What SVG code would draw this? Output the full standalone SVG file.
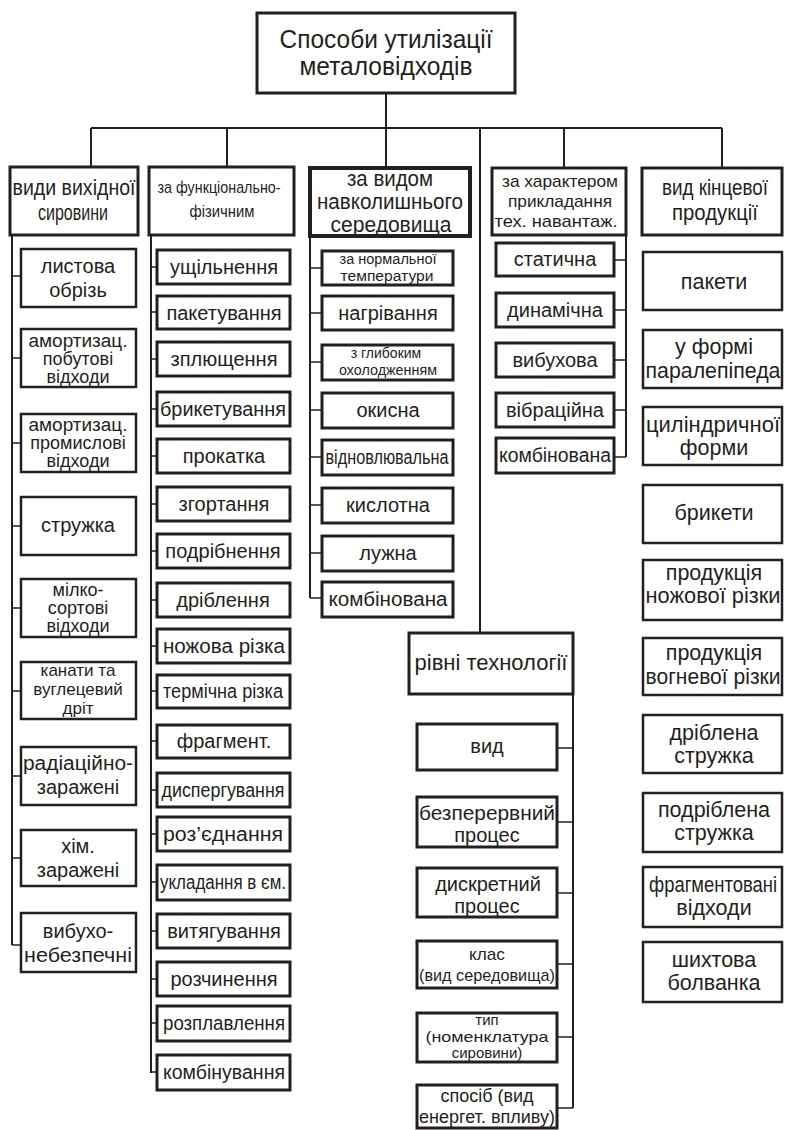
<svg xmlns="http://www.w3.org/2000/svg" width="787" height="1130" viewBox="0 0 787 1130">
<style>
.b{fill:#fff;stroke:#231f20;stroke-width:3}
.b2{fill:#fff;stroke:#231f20;stroke-width:2.5}
.b4{fill:#fff;stroke:#231f20;stroke-width:4}
.l{stroke:#231f20;stroke-width:2;fill:none}
.k{stroke:#231f20;stroke-width:1.6;fill:none}
text{font-family:"Liberation Sans",Arial,sans-serif;fill:#231f20;text-anchor:middle;font-size:20px}
.s14{font-size:14px}.s15{font-size:15px}.s17{font-size:17px}.s18{font-size:18px}.s19{font-size:19px}.s21{font-size:21.5px}.s22{font-size:22px}.s26{font-size:25px}
</style>
<rect width="787" height="1130" fill="#fff"/>
<g id="connectors">
<path class="l" d="M386 93V167M91 128H722M91 128V167M227 128V167M564 128V168M722 128V168M480 128V633"/>
<path class="l" d="M12 235V945M151 235V1073M310 236V598M626 235V457M573 694V1108"/>
<path class="k" d="M12 276H21M12 358H21M12 443H21M12 526H21M12 608H21M12 691H21M12 776H21M12 858H21M12 945H21"/>
<path class="k" d="M151 267H157M151 312H157M151 359H157M151 409H157M151 456H157M151 504H157M151 551H157M151 600H157M151 646H157M151 691H157M151 741H157M151 790H157M151 834H157M151 882H157M151 931H157M151 979H157M151 1023H157M151 1072H157"/>
<path class="k" d="M310 268H322M310 313H322M310 362H322M310 410H322M310 457H322M310 505H322M310 553H322M310 598H322"/>
<path class="k" d="M614 260H626M614 310H626M614 360H626M614 410H626M614 457H626"/>
<path class="k" d="M557 748H573M557 822H573M557 893H573M557 964H573M557 1037H573M557 1108H573"/>
</g>
<g id="root"><rect class="b" x="257" y="13" width="258" height="80"/><text class="s26" x="386" y="48" textLength="213" lengthAdjust="spacingAndGlyphs">Способи утилізації</text><text class="s26" x="386" y="75" textLength="173" lengthAdjust="spacingAndGlyphs">металовідходів</text></g>
<g id="h1"><rect class="b" x="10" y="167" width="128" height="68"/><text class="s21" x="74" y="195" textLength="123" lengthAdjust="spacingAndGlyphs">види вихідної</text><text class="s21" x="73" y="220" textLength="70" lengthAdjust="spacingAndGlyphs">сировини</text></g>
<g id="h2"><rect class="b" x="149" y="167" width="145" height="68"/><text class="s17" x="219" y="193" textLength="123" lengthAdjust="spacingAndGlyphs">за функціонально-</text><text class="s17" x="222" y="217" textLength="65" lengthAdjust="spacingAndGlyphs">фізичним</text></g>
<g id="h3"><rect class="b4" x="310" y="168" width="160" height="68"/><text class="s22" x="390" y="186" textLength="86" lengthAdjust="spacingAndGlyphs">за видом</text><text class="s22" x="390" y="209" textLength="146" lengthAdjust="spacingAndGlyphs">навколишнього</text><text class="s22" x="391" y="232" textLength="121" lengthAdjust="spacingAndGlyphs">середовища</text></g>
<g id="h4"><rect class="b" x="492" y="168" width="134" height="67"/><text class="s17" x="560" y="187" textLength="116" lengthAdjust="spacingAndGlyphs">за характером</text><text class="s17" x="560" y="207" textLength="104" lengthAdjust="spacingAndGlyphs">прикладання</text><text class="s17" x="556" y="227" textLength="123" lengthAdjust="spacingAndGlyphs">тех. навантаж.</text></g>
<g id="h5"><rect class="b" x="642" y="168" width="140" height="67"/><text class="s21" x="715" y="195" textLength="106" lengthAdjust="spacingAndGlyphs">вид кінцевої</text><text class="s21" x="715" y="220" textLength="86" lengthAdjust="spacingAndGlyphs">продукції</text></g>
<g id="c1-1"><rect class="b2" x="21" y="249" width="115" height="58"/><text x="78" y="273">листова</text><text x="78" y="297">обрізь</text></g>
<g id="c1-2"><rect class="b2" x="21" y="329" width="115" height="58"/><text class="s18" x="78" y="347" textLength="99" lengthAdjust="spacingAndGlyphs">амортизац.</text><text class="s18" x="78" y="365">побутові</text><text class="s18" x="78" y="383">відходи</text></g>
<g id="c1-3"><rect class="b2" x="21" y="414" width="115" height="58"/><text class="s18" x="78" y="431" textLength="99" lengthAdjust="spacingAndGlyphs">амортизац.</text><text class="s18" x="78" y="449">промислові</text><text class="s18" x="78" y="467">відходи</text></g>
<g id="c1-4"><rect class="b2" x="21" y="497" width="115" height="58"/><text x="78" y="532">стружка</text></g>
<g id="c1-5"><rect class="b2" x="21" y="579" width="115" height="58"/><text class="s18" x="78" y="596">мілко-</text><text class="s18" x="78" y="614">сортові</text><text class="s18" x="78" y="632">відходи</text></g>
<g id="c1-6"><rect class="b2" x="21" y="662" width="115" height="57"/><text class="s17" x="78" y="676">канати та</text><text class="s17" x="78" y="695">вуглецевий</text><text class="s17" x="78" y="714">дріт</text></g>
<g id="c1-7"><rect class="b2" x="21" y="747" width="115" height="58"/><text x="78" y="770" textLength="110" lengthAdjust="spacingAndGlyphs">радіаційно-</text><text x="78" y="794">заражені</text></g>
<g id="c1-8"><rect class="b2" x="21" y="830" width="115" height="56"/><text x="78" y="853">хім.</text><text x="78" y="877">заражені</text></g>
<g id="c1-9"><rect class="b2" x="21" y="913" width="115" height="59"/><text x="78" y="938">вибухо-</text><text x="78" y="962" textLength="108" lengthAdjust="spacingAndGlyphs">небезпечні</text></g>
<g id="c2-1"><rect class="b" x="157" y="250" width="133" height="34"/><text x="224" y="274">ущільнення</text></g>
<g id="c2-2"><rect class="b" x="157" y="296" width="133" height="33"/><text x="224" y="320">пакетування</text></g>
<g id="c2-3"><rect class="b" x="157" y="342" width="133" height="34"/><text x="224" y="366">зплющення</text></g>
<g id="c2-4"><rect class="b" x="157" y="392" width="133" height="34"/><text x="223" y="416" textLength="126" lengthAdjust="spacingAndGlyphs">брикетування</text></g>
<g id="c2-5"><rect class="b" x="157" y="439" width="133" height="34"/><text x="224" y="463">прокатка</text></g>
<g id="c2-6"><rect class="b" x="157" y="487" width="133" height="34"/><text x="224" y="511">згортання</text></g>
<g id="c2-7"><rect class="b" x="157" y="534" width="133" height="34"/><text x="223" y="558">подрібнення</text></g>
<g id="c2-8"><rect class="b" x="157" y="583" width="133" height="34"/><text x="223" y="607">дріблення</text></g>
<g id="c2-9"><rect class="b" x="157" y="629" width="133" height="34"/><text x="224" y="653" textLength="122" lengthAdjust="spacingAndGlyphs">ножова різка</text></g>
<g id="c2-10"><rect class="b" x="157" y="675" width="133" height="33"/><text x="223" y="698" textLength="120" lengthAdjust="spacingAndGlyphs">термічна різка</text></g>
<g id="c2-11"><rect class="b" x="157" y="725" width="133" height="33"/><text x="224" y="748">фрагмент.</text></g>
<g id="c2-12"><rect class="b" x="157" y="773" width="133" height="34"/><text x="223" y="797" textLength="123" lengthAdjust="spacingAndGlyphs">диспергування</text></g>
<g id="c2-13"><rect class="b" x="157" y="817" width="133" height="34"/><text x="223" y="841" textLength="120" lengthAdjust="spacingAndGlyphs">роз’єднання</text></g>
<g id="c2-14"><rect class="b" x="157" y="865" width="133" height="35"/><text x="223" y="889" textLength="126" lengthAdjust="spacingAndGlyphs">укладання в єм.</text></g>
<g id="c2-15"><rect class="b" x="157" y="914" width="133" height="34"/><text x="224" y="938">витягування</text></g>
<g id="c2-16"><rect class="b" x="157" y="962" width="133" height="34"/><text x="224" y="986">розчинення</text></g>
<g id="c2-17"><rect class="b" x="157" y="1006" width="133" height="35"/><text x="224" y="1030" textLength="122" lengthAdjust="spacingAndGlyphs">розплавлення</text></g>
<g id="c2-18"><rect class="b" x="157" y="1055" width="133" height="35"/><text x="224" y="1079" textLength="122" lengthAdjust="spacingAndGlyphs">комбінування</text></g>
<g id="c3-1"><rect class="b" x="322" y="251" width="131" height="34"/><text class="s14" x="388" y="264" textLength="97" lengthAdjust="spacingAndGlyphs">за нормальної</text><text class="s14" x="387" y="281" textLength="93" lengthAdjust="spacingAndGlyphs">температури</text></g>
<g id="c3-2"><rect class="b" x="322" y="296" width="131" height="34"/><text x="388" y="320">нагрівання</text></g>
<g id="c3-3"><rect class="b" x="322" y="345" width="131" height="35"/><text class="s14" x="386" y="358">з глибоким</text><text class="s14" x="388" y="375" textLength="98" lengthAdjust="spacingAndGlyphs">охолодженням</text></g>
<g id="c3-4"><rect class="b" x="322" y="393" width="131" height="35"/><text x="388" y="417">окисна</text></g>
<g id="c3-5"><rect class="b" x="322" y="440" width="131" height="35"/><text x="387" y="464" textLength="123" lengthAdjust="spacingAndGlyphs">відновлювальна</text></g>
<g id="c3-6"><rect class="b" x="322" y="488" width="131" height="35"/><text x="388" y="512">кислотна</text></g>
<g id="c3-7"><rect class="b" x="322" y="536" width="131" height="35"/><text x="388" y="560">лужна</text></g>
<g id="c3-8"><rect class="b" x="322" y="582" width="131" height="35"/><text x="388" y="606" textLength="119" lengthAdjust="spacingAndGlyphs">комбінована</text></g>
<g id="c4-1"><rect class="b" x="496" y="243" width="118" height="33"/><text x="555" y="266">статична</text></g>
<g id="c4-2"><rect class="b" x="496" y="293" width="118" height="34"/><text x="555" y="317">динамічна</text></g>
<g id="c4-3"><rect class="b" x="496" y="343" width="118" height="34"/><text x="555" y="367">вибухова</text></g>
<g id="c4-4"><rect class="b" x="496" y="393" width="118" height="34"/><text x="555" y="417">вібраційна</text></g>
<g id="c4-5"><rect class="b" x="496" y="438" width="118" height="35"/><text x="555" y="462" textLength="112" lengthAdjust="spacingAndGlyphs">комбінована</text></g>
<g id="c5-1"><rect class="b2" x="643" y="252" width="139" height="58"/><text class="s21" x="714" y="289">пакети</text></g>
<g id="c5-2"><rect class="b2" x="643" y="330" width="139" height="58"/><text class="s21" x="714" y="354">у формі</text><text class="s21" x="713" y="378" textLength="135" lengthAdjust="spacingAndGlyphs">паралепіпеда</text></g>
<g id="c5-3"><rect class="b2" x="643" y="407" width="139" height="58"/><text class="s21" x="713" y="432" textLength="134" lengthAdjust="spacingAndGlyphs">циліндричної</text><text class="s21" x="714" y="455">форми</text></g>
<g id="c5-4"><rect class="b2" x="643" y="485" width="139" height="58"/><text class="s21" x="714" y="520">брикети</text></g>
<g id="c5-5"><rect class="b2" x="643" y="560" width="139" height="60"/><text class="s21" x="714" y="580">продукція</text><text class="s21" x="713" y="603" textLength="135" lengthAdjust="spacingAndGlyphs">ножової різки</text></g>
<g id="c5-6"><rect class="b2" x="643" y="638" width="139" height="57"/><text class="s21" x="714" y="660">продукція</text><text class="s21" x="713" y="684" textLength="135" lengthAdjust="spacingAndGlyphs">вогневої різки</text></g>
<g id="c5-7"><rect class="b2" x="643" y="715" width="139" height="58"/><text class="s21" x="714" y="740">дріблена</text><text class="s21" x="714" y="763">стружка</text></g>
<g id="c5-8"><rect class="b2" x="643" y="793" width="139" height="59"/><text class="s21" x="714" y="817">подріблена</text><text class="s21" x="714" y="840">стружка</text></g>
<g id="c5-9"><rect class="b2" x="643" y="867" width="139" height="60"/><text class="s21" x="713" y="892" textLength="128" lengthAdjust="spacingAndGlyphs">фрагментовані</text><text class="s21" x="714" y="915">відходи</text></g>
<g id="c5-10"><rect class="b2" x="643" y="942" width="139" height="60"/><text class="s21" x="714" y="967">шихтова</text><text class="s21" x="714" y="990">болванка</text></g>
<g id="r0"><rect class="b" x="409" y="633" width="164" height="61"/><text class="s21" x="491" y="670" textLength="153" lengthAdjust="spacingAndGlyphs">рівні технології</text></g>
<g id="r1"><rect class="b" x="417" y="724" width="140" height="46"/><text x="487" y="753">вид</text></g>
<g id="r2"><rect class="b" x="417" y="797" width="140" height="50"/><text x="487" y="820" textLength="136" lengthAdjust="spacingAndGlyphs">безперервний</text><text x="487" y="842">процес</text></g>
<g id="r3"><rect class="b" x="417" y="868" width="140" height="49"/><text x="488" y="891">дискретний</text><text x="487" y="913">процес</text></g>
<g id="r4"><rect class="b" x="417" y="941" width="140" height="47"/><text class="s17" x="487" y="960" textLength="36" lengthAdjust="spacingAndGlyphs">клас</text><text class="s17" x="487" y="981" textLength="136" lengthAdjust="spacingAndGlyphs">(вид середовища)</text></g>
<g id="r5"><rect class="b" x="417" y="1013" width="140" height="49"/><text class="s15" x="487" y="1025">тип</text><text class="s15" x="487" y="1042" textLength="123" lengthAdjust="spacingAndGlyphs">(номенклатура</text><text class="s15" x="487" y="1058">сировини)</text></g>
<g id="r6"><rect class="b" x="417" y="1085" width="140" height="43"/><text class="s18" x="487" y="1102">спосіб (вид</text><text class="s18" x="487" y="1123" textLength="136" lengthAdjust="spacingAndGlyphs">енергет. впливу)</text></g>
</svg>
